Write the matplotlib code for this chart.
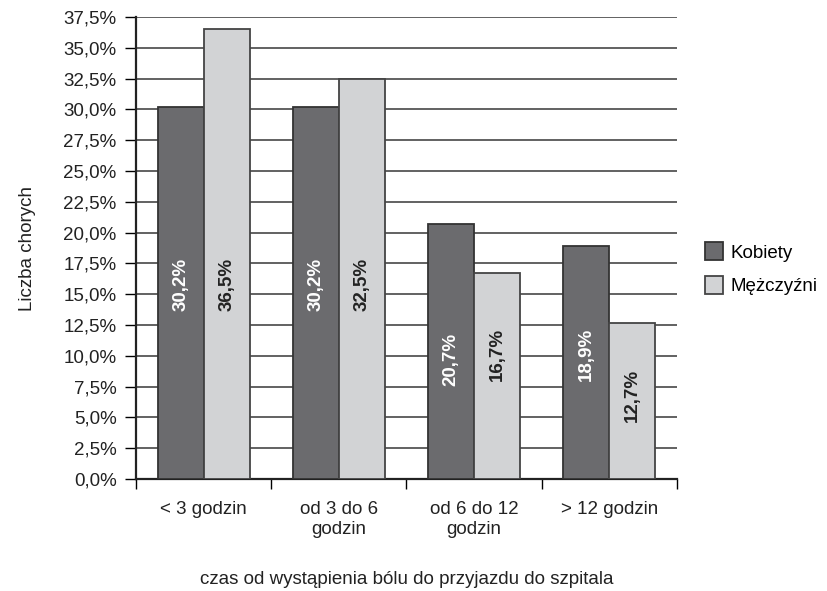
import matplotlib
matplotlib.use("Agg")
import matplotlib.pyplot as plt
import numpy as np

plt.rcParams['font.family'] = ['Liberation Sans', 'DejaVu Sans']

categories = ["< 3 godzin", "od 3 do 6\ngodzin", "od 6 do 12\ngodzin", "> 12 godzin"]
kobiety = [30.2, 30.2, 20.7, 18.9]
mezczyzni = [36.5, 32.5, 16.7, 12.7]
yticks = np.arange(0, 37.6, 2.5)

# where the value text sits inside each bar (data units)
label_y_k = [15.8, 15.8, 9.7, 10.1]
label_y_m = [15.8, 15.8, 10.1, 6.8]

dark = "#6b6b6e"
light = "#d2d3d5"
fs = 13.5

fig = plt.figure(figsize=(8.27, 5.91), dpi=100)
ax = fig.add_axes([0.1645, 0.1895, 0.654, 0.7817])

x = np.arange(len(categories))
w = 0.34
ax.bar(x - w / 2, kobiety, w, color=dark, edgecolor="#333333", linewidth=1.3,
       label="Kobiety", zorder=3)
ax.bar(x + w / 2, mezczyzni, w, color=light, edgecolor="#444444", linewidth=1.3,
       label="Mężczyźni", zorder=3)

for i in range(len(categories)):
    ax.text(x[i] - w / 2, label_y_k[i], f"{kobiety[i]:.1f}%".replace(".", ","),
            rotation=90, ha="center", va="center", color="white",
            fontsize=fs, fontweight="bold", zorder=4)
    ax.text(x[i] + w / 2, label_y_m[i], f"{mezczyzni[i]:.1f}%".replace(".", ","),
            rotation=90, ha="center", va="center", color="#222222",
            fontsize=fs, fontweight="bold", zorder=4)

ax.set_xlim(-0.5, len(categories) - 0.5)
ax.set_ylim(0, 37.5)
ax.set_yticks(yticks)
ax.set_yticklabels([f"{v:.1f}%".replace(".", ",") for v in yticks], fontsize=fs,
                   color="#222222")
ax.yaxis.grid(True, color="#555555", linewidth=1.3, zorder=0)
ax.set_axisbelow(True)

ax.set_xticks(x)
ax.set_xticklabels(categories, fontsize=fs, color="#222222")
ax.tick_params(axis="x", length=0, pad=16)
ax.set_xticks(np.arange(-0.5, len(categories) - 0.4, 1), minor=True)
ax.tick_params(axis="x", which="minor", length=7, width=1, direction="out")
ax.tick_params(axis="y", length=8, width=1, direction="out", pad=6)

for s in ["top", "right"]:
    ax.spines[s].set_visible(False)
ax.spines["left"].set_linewidth(1.6)
ax.spines["bottom"].set_linewidth(1.6)
ax.spines["left"].set_color("#222222")
ax.spines["bottom"].set_color("#222222")

ax.set_ylabel("Liczba chorych", fontsize=fs, labelpad=20, color="#222222")
ax.set_xlabel("czas od wystąpienia bólu do przyjazdu do szpitala", fontsize=fs,
              labelpad=24, color="#222222")

ax.legend(loc="center left", bbox_to_anchor=(1.02, 0.455), frameon=False,
          fontsize=fs, handlelength=1.0, handleheight=1.1, handletextpad=0.4,
          labelspacing=0.75)

fig.savefig("out.png", dpi=100)
